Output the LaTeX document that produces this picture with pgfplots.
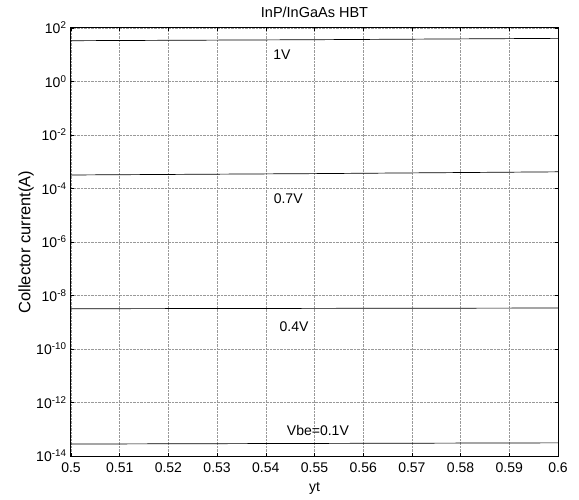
\documentclass[border=0pt]{standalone}
\usepackage{pgfplots}
\pgfplotsset{compat=1.18}
\usepackage{fontspec}
\setmainfont{Liberation Sans}
\begin{document}
\begin{tikzpicture}
\begin{axis}[
  scale only axis, width=487pt, height=428pt,
  ymode=log, xmin=0.5, xmax=0.6, ymin=1e-14, ymax=1e2,
  font=\fontsize{14}{16}\selectfont,
  axis line style={line width=1pt},
  xtick={0.5,0.51,0.52,0.53,0.54,0.55,0.56,0.57,0.58,0.59,0.6},
  xticklabels={0.5,0.51,0.52,0.53,0.54,0.55,0.56,0.57,0.58,0.59,0.6},
  ytick={1e-14,1e-12,1e-10,1e-8,1e-6,1e-4,1e-2,1e0,1e2},
  yticklabels={10\textsuperscript{-14},10\textsuperscript{-12},10\textsuperscript{-10},10\textsuperscript{-8},10\textsuperscript{-6},10\textsuperscript{-4},10\textsuperscript{-2},10\textsuperscript{0},10\textsuperscript{2}},
  minor ytick={}, yminorticks=false,
  tick align=inside, major tick length=3pt, tick style={black, line width=0.5pt},
  grid=major, major grid style={densely dotted, gray!80, line width=0.5pt},
  title={InP/InGaAs HBT},
  title style={at={(axis description cs:0.5,1.0234)}, anchor=center, font=\fontsize{14.5}{16}\selectfont},
  xlabel={yt}, ylabel={Collector current(A)},
  xlabel style={at={(axis description cs:0.5,-0.0748)}, anchor=center},
  ylabel style={at={(axis description cs:-0.092,0.5)}, anchor=center, rotate=0, font=\fontsize{16.5}{18}\selectfont},
  xticklabel style={anchor=center, yshift=-12pt},
  yticklabel style={xshift=-1pt},
]
\addplot[black, line width=0.7pt] coordinates {(0.5,33.5) (0.55,36.5) (0.6,41)};
\addplot[black, line width=0.7pt] coordinates {(0.5,3.2e-4) (0.55,3.6e-4) (0.6,4.2e-4)};
\addplot[black, line width=0.7pt] coordinates {(0.5,3.2e-9) (0.55,3.3e-9) (0.6,3.4e-9)};
\addplot[black, line width=0.7pt] coordinates {(0.5,2.8e-14) (0.55,2.95e-14) (0.6,3.1e-14)};
\node[anchor=center] at (axis cs:0.5433,9.8) {1V};
\node[anchor=center] at (axis cs:0.5446,4.1e-5) {0.7V};
\node[anchor=center] at (axis cs:0.5458,6.6e-10) {0.4V};
\node[anchor=center] at (axis cs:0.5507,9.3e-14) {Vbe=0.1V};
\end{axis}
\pgfresetboundingbox
\useasboundingbox ([shift={(-71pt,-44pt)}]current axis.south west) rectangle ([shift={(21pt,28pt)}]current axis.north east);
\end{tikzpicture}
\end{document}
